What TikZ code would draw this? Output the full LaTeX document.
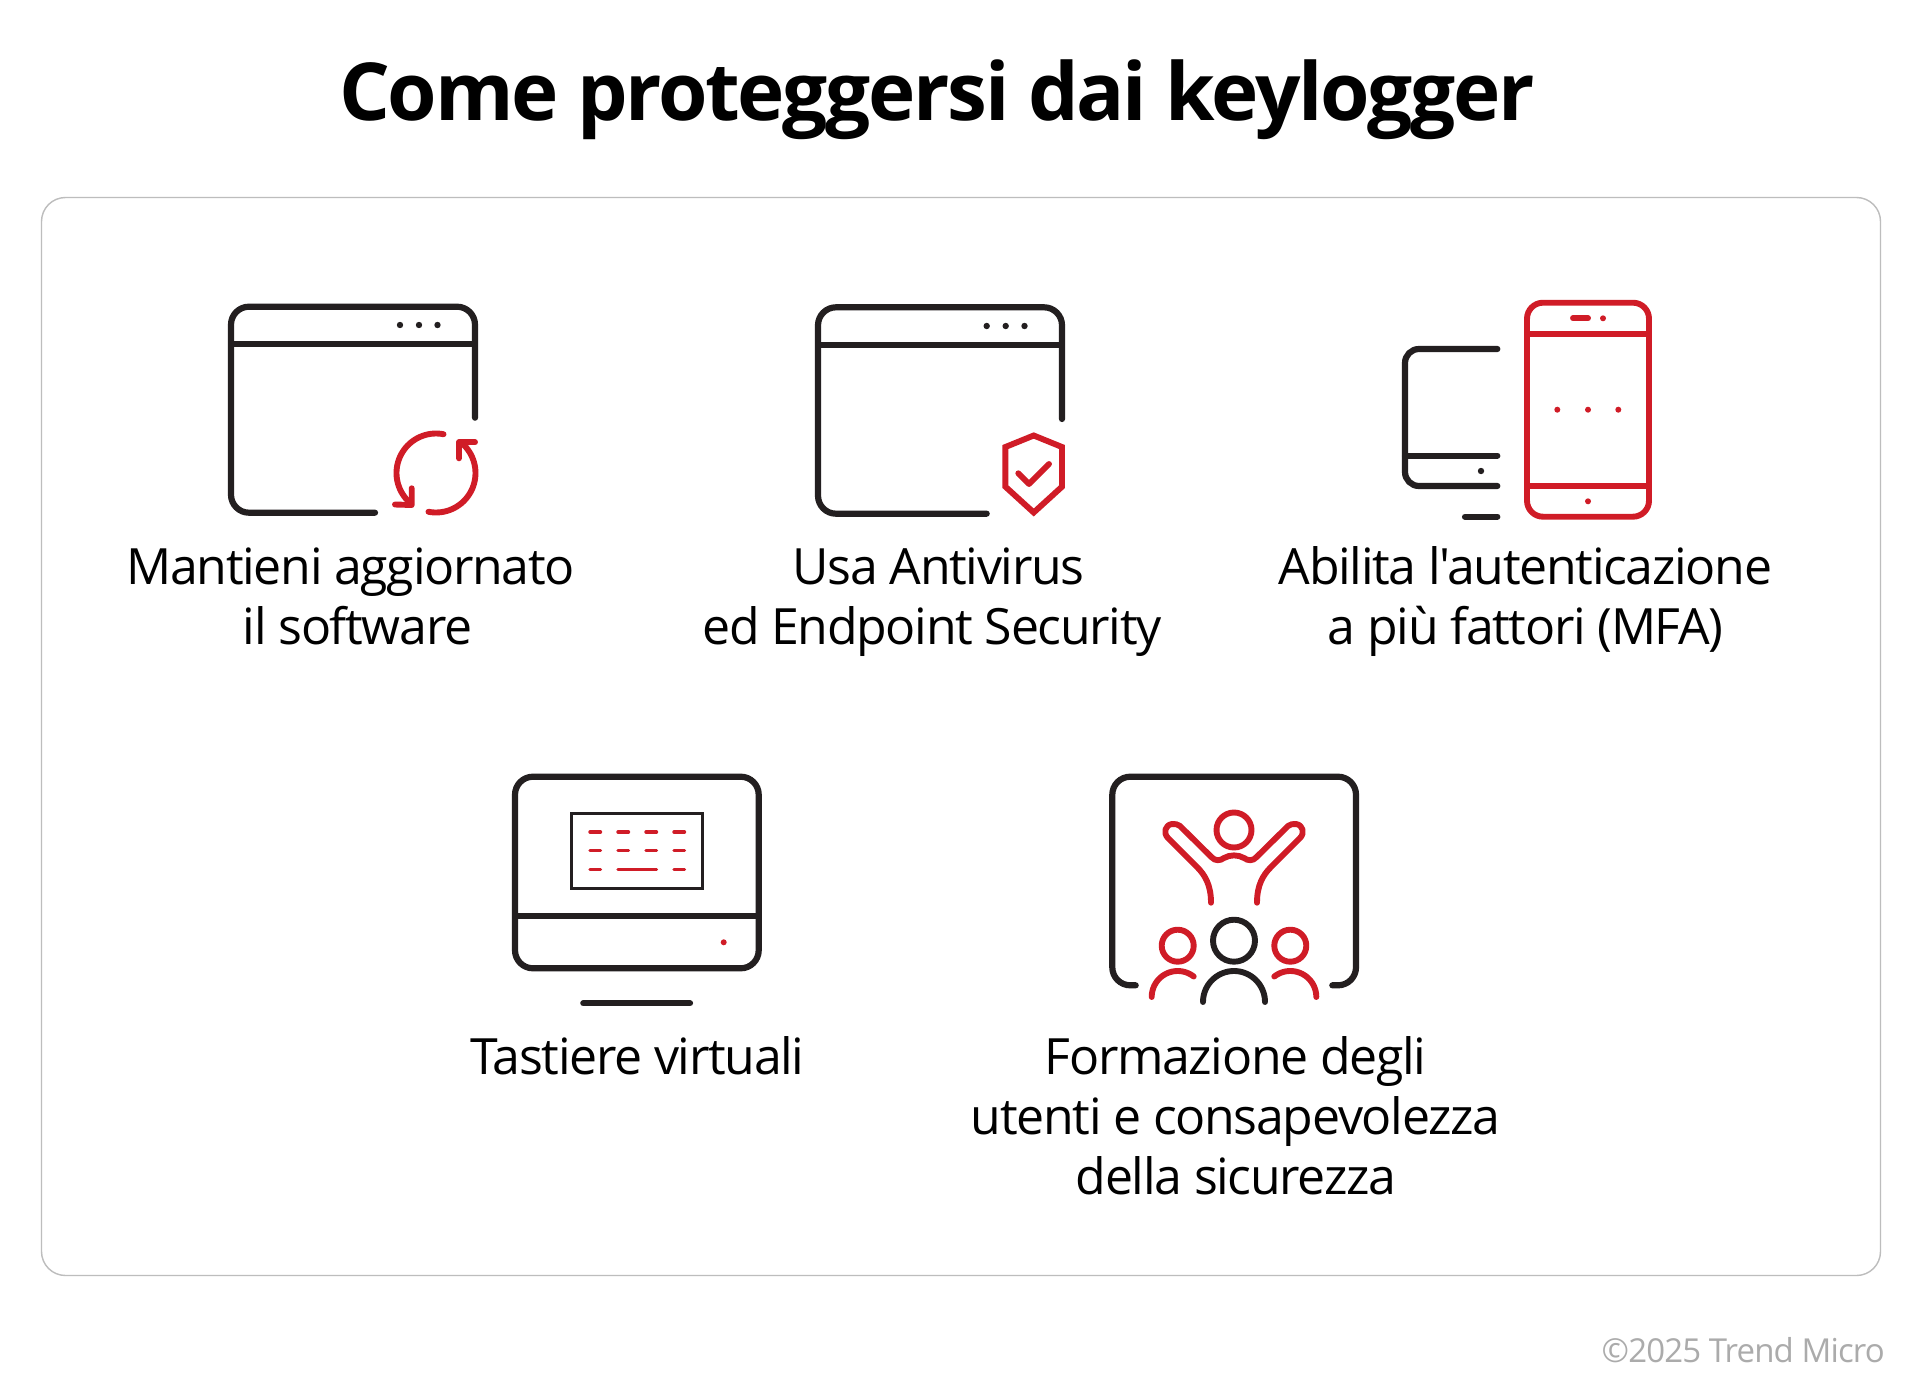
\documentclass[tikz,border=0pt]{standalone}
\usepackage{fontspec}
\setmainfont{Open Sans}
\newfontfamily\lblfont[LetterSpace=-2.6]{Open Sans}
\newfontfamily\ttlfont[LetterSpace=-2.8]{Open Sans}
\definecolor{ink}{HTML}{231F20}
\definecolor{tmred}{HTML}{D01C27}
\definecolor{frame}{HTML}{BDBDBD}
\definecolor{copy}{HTML}{ABABAB}
\newcommand{\ArcPx}[5]{plot[samples=40,domain=#4:#5,variable=\t] ({#1+#3*cos(\t)},{#2-#3*sin(\t)})}
\tikzset{
  lbl/.style={anchor=base,inner sep=0pt,font=\lblfont\fontsize{50}{60}\selectfont,text=black},
  ic/.style={draw=ink,line width=6.2pt,line cap=round,line join=round},
  icr/.style={draw=tmred,line width=5.9pt,line cap=round,line join=round},
  thin red/.style={draw=tmred,line width=3.4pt,line cap=round},
}
\begin{document}
\begin{tikzpicture}[x=1pt,y=-1pt]
\useasboundingbox (0,0) rectangle (1920,1397);
\fill[white] (0,0) rectangle (1920,1397);
\node[anchor=base,inner sep=0pt,font=\ttlfont\fontsize{80}{90}\selectfont\bfseries,text=black] (title) at (937,121) {Come proteggersi dai keylogger};
\draw[frame,line width=1.4pt,rounded corners=24pt] (41.5,197.5) rectangle (1880.5,1275.5);
% icon 1
\draw[ic,rounded corners=18pt] (475,417.7) -- (475,306.7) -- (231,306.7) -- (231,512.7) -- (375,512.7);
\draw[ic,line cap=butt] (231,344) -- (475,344);
\foreach \x in {400,419,437.5} \fill[ink] (\x,325) circle (3.2);
\draw[icr] \ArcPx{436}{473}{39.5}{79}{227};
\draw[icr] \ArcPx{436}{473}{39.5}{-101}{51};
\draw[icr] (411.7,488.3) -- (411.7,505) -- (395,504.5);
\draw[icr] (459,458.3) -- (459,442.3) -- (475,442.3);
% icon 2
\draw[ic,rounded corners=18pt] (1062,419) -- (1062,307.3) -- (818,307.3) -- (818,513.7) -- (986.7,513.7);
\draw[ic,line cap=butt] (818,344.7) -- (1062,344.7);
\foreach \x in {986.7,1005.7,1024.5} \fill[ink] (\x,326) circle (3.2);
\draw[icr,line join=miter] (1033.7,435.5) -- (1062,447) -- (1062,486.7) -- (1033.7,512.5) -- (1005.4,486.7) -- (1005.4,447) -- cycle;
\draw[icr] (1018.3,473.3) -- (1029,484) -- (1049,464);
% icon 3
\draw[ic,rounded corners=14pt] (1497.3,349) -- (1405,349) -- (1405,486) -- (1497.3,486);
\draw[ic,line cap=round] (1405,455.7) -- (1497.3,455.7);
\fill[ink] (1481,471) circle (3.2);
\draw[ic] (1465,516.7) -- (1497.3,516.7);
\draw[icr,rounded corners=16pt] (1527,302.7) rectangle (1649,516.7);
\draw[icr,line cap=butt] (1527,333.7) -- (1649,333.7);
\draw[icr,line cap=butt] (1527,486) -- (1649,486);
\draw[icr] (1573,318.3) -- (1588,318.3);
\foreach \x/\y in {1603/318.3,1557.3/409.7,1588/409.7,1618.3/409.7,1588/501.3} \fill[tmred] (\x,\y) circle (3);
% icon 4
\draw[ic,rounded corners=18pt] (515,776.7) rectangle (758.7,968.3);
\draw[ic,line cap=butt] (515,916) -- (758.7,916);
\draw[ic] (583.3,1003.3) -- (690,1003.3);
\draw[draw=ink,line width=3.2pt] (571.3,813.3) rectangle (702.7,888.3);
\foreach \y in {832,850.7} \foreach \x in {590,618,646,674} \draw[thin red] (\x,\y) -- (\x+10.5,\y);
\draw[thin red] (590,869.3) -- (600.5,869.3);
\draw[thin red] (618,869.3) -- (656.5,869.3);
\draw[thin red] (674,869.3) -- (684.5,869.3);
\fill[tmred] (723.7,942.3) circle (3);
% icon 5
\draw[ic,rounded corners=18pt] (1135.7,985.3) -- (1112.3,985.3) -- (1112.3,776.7) -- (1356,776.7) -- (1356,985.3) -- (1332.3,985.3);
\draw[icr] (1234,830) circle (17.5);
\draw[icr] (1211,902.7) .. controls (1211,885) and (1205,875) .. (1197,867) -- (1168,838)
  .. controls (1163,833) and (1165,825) .. (1172,824) .. controls (1175,823.5) and (1178,824.5) .. (1180,826)
  -- (1211.7,857.3) .. controls (1215,861) and (1220,861) .. (1224,858) .. controls (1230,854.5) and (1238,854.5) .. (1244,858)
  .. controls (1248,861) and (1253,861) .. (1256.3,857.3) -- (1288,826)
  .. controls (1290,824.5) and (1293,823.5) .. (1296,824) .. controls (1303,825) and (1305,833) .. (1300,838)
  -- (1271,867) .. controls (1263,875) and (1257,885) .. (1257,902.7);
\draw[ic,line width=5.9pt] (1234,940.7) circle (21);
\draw[ic,line width=5.9pt] \ArcPx{1234}{1002}{31}{0}{180};
\draw[icr] (1177.7,945.7) circle (16);
\draw[icr] (1290.3,945.7) circle (16);
\draw[icr] \ArcPx{1177.7}{997}{26}{52}{180};
\draw[icr] \ArcPx{1290.3}{997}{26}{0}{128};
% labels
\node[lbl] (a1) at (350.6,584) {Mantieni aggiornato};
\node[lbl] (a2) at (357.5,644) {il software};
\node[lbl] (b1) at (938.6,584) {Usa Antivirus};
\node[lbl] (b2) at (932,644) {ed Endpoint Security};
\node[lbl] (c1) at (1525.4,584) {Abilita l'autenticazione};
\node[lbl] (c2) at (1525.7,644) {a più fattori (MFA)};
\node[lbl] (d1) at (637.5,1074) {Tastiere virtuali};
\node[lbl] (e1) at (1235.5,1074) {Formazione degli};
\node[lbl] (e2) at (1235.5,1134) {utenti e consapevolezza};
\node[lbl] (e3) at (1236,1194) {della sicurezza};
\node[anchor=base east,inner sep=0pt,font=\lblfont\fontsize{33}{40}\selectfont,text=copy] (cp) at (1885,1362) {©2025 Trend Micro};
\end{tikzpicture}
\end{document}
